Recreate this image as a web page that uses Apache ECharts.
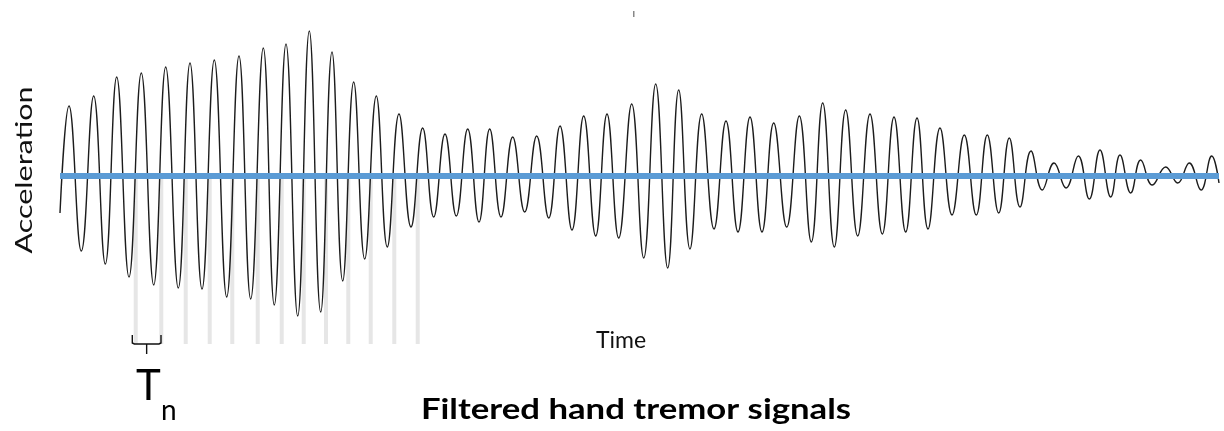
<!DOCTYPE html>
<html>
<head>
<meta charset="utf-8">
<script src="https://cdn.jsdelivr.net/npm/echarts@6/dist/echarts.min.js"></script>
<style>
  html, body { margin: 0; padding: 0; background: #fff; }
  #tremor-chart { width: 1224px; height: 431px; }
</style>
</head>
<body>
<div id="tremor-chart"></div>
<script>
// time of each peak / trough of the filtered signal (arbitrary units)
const extremaTime = [
  0, 9, 21.3, 33.7, 45.3, 56.7, 69, 81.3, 93.7, 105.7, 118.3, 130, 142, 154.3, 166.7,
  179, 190.7, 203.3, 214.3, 226, 237.7, 249.3, 260.7, 272, 282.7, 293.7, 304.7, 316.3,
  327.3, 339, 351, 362.7, 373.7, 385, 396.3, 407.7, 419, 429.7, 441, 452.7, 464.7,
  476.7, 488.7, 500, 512, 523.7, 535.7, 547, 558.7, 571.7, 583.7, 595.7, 607.7, 618.7,
  630, 641.7, 654, 666, 678, 690, 702, 713.7, 726.7, 739.3, 751.3, 762.7, 774.3, 785.7,
  797.7, 810, 822.3, 834, 845.7, 857, 868, 880, 892, 904.3, 916.3, 927.3, 938.7, 949.3,
  960, 971, 982.3, 994, 1006, 1018.3, 1029.3, 1040, 1050.7, 1060, 1070.7, 1080.7,
  1092.3, 1105.7, 1117.7, 1129.3, 1141, 1151.7, 1159
]
// acceleration at those peaks / troughs
const extremaAccel = [
  -37, 70, -75, 80, -88, 99, -101, 103, -109, 109, -112, 113, -113, 116, -121,
  120, -123, 128, -129, 132, -140, 145, -136, 124, -105, 94, -83, 80,
  -71, 62, -51, 48, -41, 42, -40, 47, -46, 47, -41, 39, -36,
  40, -42, 50, -54, 60, -60, 62, -62, 72, -82, 92, -92, 86,
  -73, 62, -53, 55, -56, 59, -56, 53, -51, 60, -66, 73, -71, 66,
  -60, 62, -58, 59, -56, 58, -53, 48, -39, 41, -39, 41, -37, 38,
  -31, 25, -14, 13, -12, 20, -23, 26, -21, 21, -17, 16,
  -9, 9, -7, 13, -14, 20, -7
]
// upward zero crossings marked with grey lines
const periodMarks = [75.7, 101.3, 125.7, 149.7, 172.3, 197.7, 221.7, 243.7, 266, 288.3, 310.7, 334.3, 357.7]
const periodBracket = [72.3, 101]
const timeRange = [0, 1159]
const accelRange = [-168, 168]

const signal = extremaTime.map((t, i) => [t, extremaAccel[i]])
const baseline = timeRange.map(t => [t, 0])

const chart = echarts.init(document.getElementById('tremor-chart'))

const option = {
  animation: false,
  grid: { left: 60, right: 5, top: 8, bottom: 87 },
  xAxis: {
    type: 'value',
    min: timeRange[0],
    max: timeRange[1],
    axisLine: { show: false },
    axisTick: { show: false },
    axisLabel: { show: false },
    splitLine: { show: false }
  },
  yAxis: {
    type: 'value',
    min: accelRange[0],
    max: accelRange[1],
    axisLine: { show: false },
    axisTick: { show: false },
    axisLabel: { show: false },
    splitLine: { show: false }
  },
  series: [
    {
      // grey period lines
      type: 'custom',
      z: 1,
      data: periodMarks.map(t => [t, 0]),
      renderItem: function (params, api) {
        const top = api.coord([api.value(0), 0])
        const bottom = api.coord([api.value(0), accelRange[0]])
        return {
          type: 'line',
          shape: { x1: top[0], y1: top[1] + 3, x2: bottom[0], y2: bottom[1] },
          style: { stroke: '#e6e6e6', lineWidth: 4 }
        }
      }
    },
    {
      type: 'line',
      z: 2,
      data: signal,
      smooth: 0.45,
      showSymbol: false,
      lineStyle: { color: '#1c1c1c', width: 1.4 }
    },
    {
      type: 'line',
      z: 3,
      data: baseline,
      showSymbol: false,
      lineStyle: { color: '#5b9bd5', width: 6 }
    },
    {
      // bracket under the first period
      type: 'custom',
      z: 4,
      clip: false,
      data: [periodBracket],
      renderItem: function (params, api) {
        const a = api.coord([api.value(0), accelRange[0]])
        const b = api.coord([api.value(1), accelRange[0]])
        const top = a[1] - 9
        const mid = (a[0] + b[0]) / 2
        return {
          type: 'group',
          children: [
            {
              type: 'polyline',
              shape: { points: [[a[0], top], [a[0], a[1] - 1], [a[0] + 2, a[1]], [b[0] - 2, b[1]], [b[0], b[1] - 1], [b[0], top]] },
              style: { stroke: '#111', lineWidth: 1.4, fill: null }
            },
            {
              type: 'line',
              shape: { x1: mid, y1: a[1], x2: mid, y2: a[1] + 10 },
              style: { stroke: '#111', lineWidth: 1.4 }
            }
          ]
        }
      }
    }
  ],
  graphic: [
    {
      type: 'text',
      x: 24,
      y: 170,
      rotation: Math.PI / 2,
      scaleX: 1.27,
      style: { text: 'Acceleration', font: '24px Lato', fill: '#111', align: 'center', verticalAlign: 'middle' }
    },
    {
      type: 'text',
      x: 621,
      y: 341,
      style: { text: 'Time', font: '23px Lato', fill: '#111', align: 'center', verticalAlign: 'middle' }
    },
    {
      type: 'text',
      x: 636,
      y: 410,
      scaleX: 1.24,
      style: { text: 'Filtered hand tremor signals', font: 'bold 28px Lato', fill: '#000', align: 'center', verticalAlign: 'middle' }
    },
    {
      type: 'text',
      x: 136,
      y: 386,
      style: { text: 'T', font: '42px Lato', fill: '#000', align: 'left', verticalAlign: 'middle' }
    },
    {
      type: 'text',
      x: 161,
      y: 411,
      style: { text: 'n', font: '28px Lato', fill: '#000', align: 'left', verticalAlign: 'middle' }
    },
    {
      type: 'rect',
      shape: { x: 633, y: 11, width: 1.5, height: 6 },
      style: { fill: '#888' }
    }
  ]
}

chart.setOption(option)
</script>
</body>
</html>
